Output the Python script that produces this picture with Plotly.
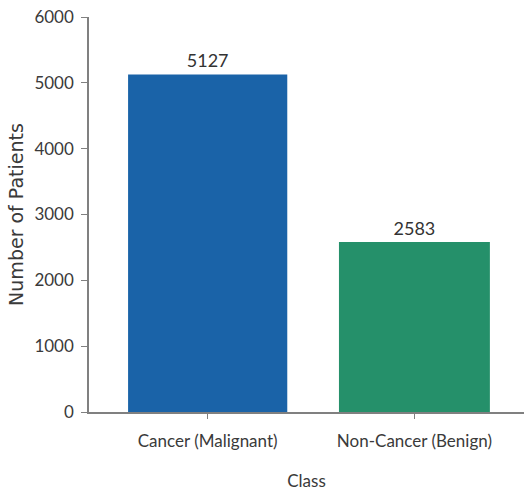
import plotly.graph_objects as go

# Patient counts by diagnosis class
classes = ["Cancer (Malignant)", "Non-Cancer (Benign)"]
patients = [5127, 2583]
bar_colors = ["#1a63a8", "#25906a"]
bar_widths = [0.77, 0.73]

y_ticks = [0, 1000, 2000, 3000, 4000, 5000, 6000]

label_font = dict(family="Lato, sans-serif", size=17, color="#3a3a3a")

fig = go.Figure(
    go.Bar(
        x=classes,
        y=patients,
        width=bar_widths,
        marker=dict(color=bar_colors, line=dict(width=0)),
        text=[str(v) for v in patients],
        textposition="outside",
        textfont=dict(family="Lato, sans-serif", size=18, color="#333333"),
        cliponaxis=False,
    )
)

fig.update_layout(
    width=524,
    height=493,
    margin=dict(l=89, r=0, t=17, b=81),
    paper_bgcolor="white",
    plot_bgcolor="white",
    showlegend=False,
    xaxis=dict(
        range=[-0.574, 1.53],
        showline=True,
        linecolor="#808080",
        linewidth=1.5,
        ticks="outside",
        ticklen=5,
        tickcolor="#808080",
        tickfont=label_font,
        ticklabelstandoff=8,
        title=dict(text="Class", font=label_font, standoff=25),
        showgrid=False,
    ),
    yaxis=dict(
        range=[0, 6000],
        tickvals=y_ticks,
        showline=True,
        linecolor="#808080",
        linewidth=1.5,
        ticks="outside",
        ticklen=6,
        tickcolor="#808080",
        tickfont=label_font,
        ticklabelstandoff=4,
        title=dict(
            text="Number of Patients",
            font=dict(family="DejaVu Sans", size=19, color="#3a3a3a"),
            standoff=6,
        ),
        showgrid=False,
        zeroline=False,
    ),
)

fig.write_html("out.html")
